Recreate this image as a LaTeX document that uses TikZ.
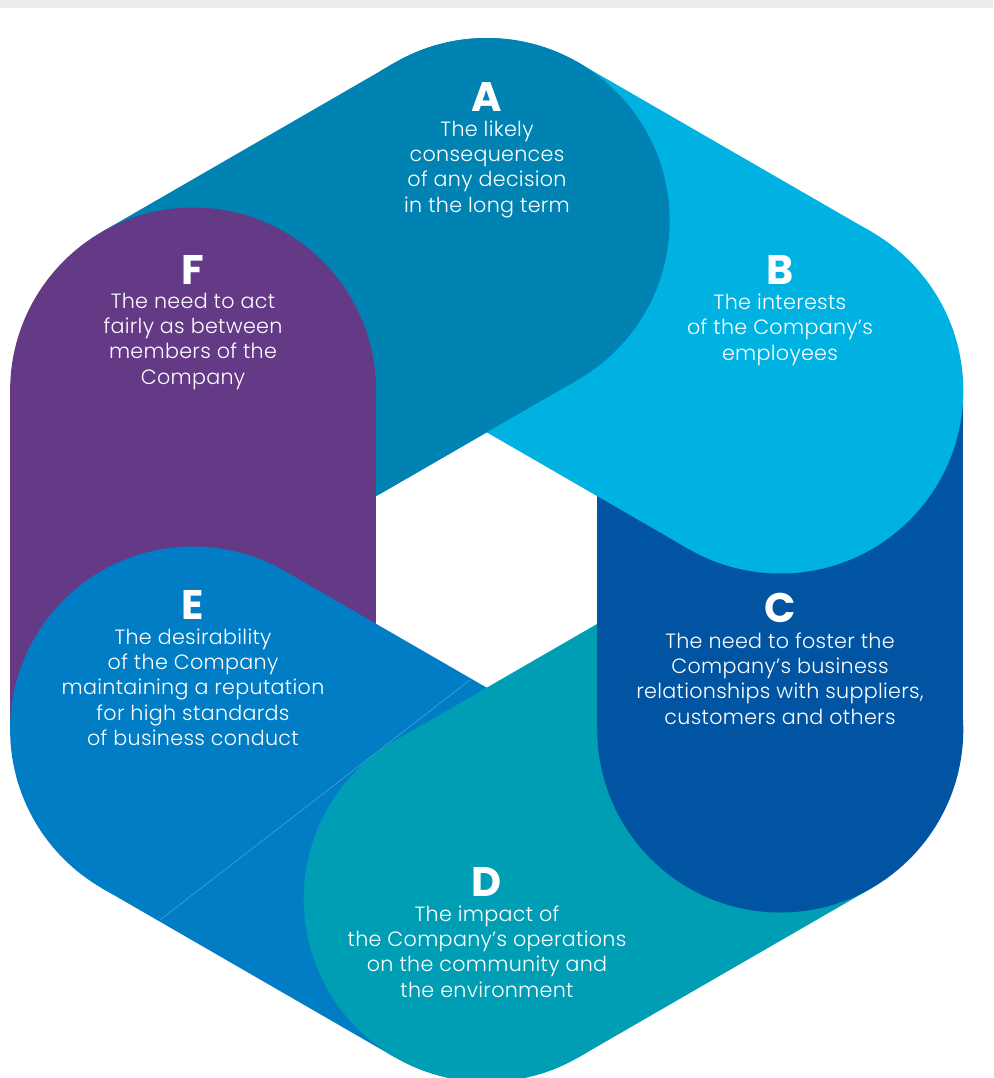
\documentclass[tikz,border=0pt]{standalone}
\usepackage{fontspec}
\setmainfont{Poppins}
\IfFontExistsTF{Poppins Light}
    {\newfontfamily\blurbfont{Poppins Light}[LetterSpace=1.5]}
    {\newfontfamily\blurbfont{Poppins}[LetterSpace=1.5]}
\definecolor{dutyA}{RGB}{0,131,179}
\definecolor{dutyB}{RGB}{0,178,226}
\definecolor{dutyC}{RGB}{0,84,162}
\definecolor{dutyD}{RGB}{0,158,180}
\definecolor{dutyE}{RGB}{0,125,197}
\definecolor{dutyF}{RGB}{100,58,134}
\definecolor{bandgray}{RGB}{236,236,236}
\usetikzlibrary{calc,positioning}
\tikzset{
    letter/.style={
        font=\fontsize{31}{31}\selectfont\bfseries, text=white,
        anchor=base, inner sep=0pt
    },
    blurb/.style={
        font=\blurbfont\fontsize{15.5}{19}\selectfont, text=white,
        align=center, anchor=base, inner sep=0pt
    }
}
% one pill: round end at corner #1, body running on to the next corner
\newcommand{\dutypill}[2]{%
    \fill[#2] ($(o)+(#1:339)$) circle[radius=183];
    \fill[#2] ($(o)+(#1:339)+(#1-30:183)$) -- ($(o)+(#1-60:339)+(#1-30:183)$)
        -- ($(o)+(#1-60:339)+(#1+150:183)$) -- ($(o)+(#1:339)+(#1+150:183)$) -- cycle;
}

\begin{document}
\begin{tikzpicture}[x=0.75pt, y=-0.75pt]
    \useasboundingbox (0,0) rectangle (993,1078);
    \fill[bandgray] (0,0) rectangle (993,8);
    \coordinate (o) at (486.7,560);
    % ring of pills, each one over the next
    \foreach \ang/\col in {270/dutyA, 210/dutyF, 150/dutyE, 90/dutyD, 30/dutyC, -30/dutyB}{
        \dutypill{\ang}{\col}
    }
    % A again on top of B
    \begin{scope}
        \clip (380,0) rectangle (993,560);
        \dutypill{270}{dutyA}
    \end{scope}
    \draw[white, opacity=0.3, line width=0.4pt] (470,680) -- (160,920);

    % texts: blurb sits on the baseline of its last line
    \node[letter] (la) at (487,111.7) {A};
    \node[blurb] (ta) at (487,212) {The likely\\consequences\\of any decision\\in the long term};
    \node[letter] (lb) at (780,284) {B};
    \node[blurb] (tb) at (780,360) {The interests\\of the Company’s\\employees};
    \node[letter] (lc) at (780,622) {C};
    \node[blurb] (tc) at (780,724) {The need to foster the\\Company’s business\\relationships with suppliers,\\customers and others};
    \node[letter] (ld) at (487,896) {D};
    \node[blurb] (td) at (487,997) {The impact of\\the Company’s operations\\on the community and\\the environment};
    \node[letter] (le) at (193,619) {E};
    \node[blurb] (te) at (193,745.5) {The desirability\\of the Company\\maintaining a reputation\\for high standards\\of business conduct};
    \node[letter] (lf) at (193,284) {F};
    \node[blurb] (tf) at (193,384) {The need to act\\fairly as between\\members of the\\Company};
\end{tikzpicture}
\end{document}
